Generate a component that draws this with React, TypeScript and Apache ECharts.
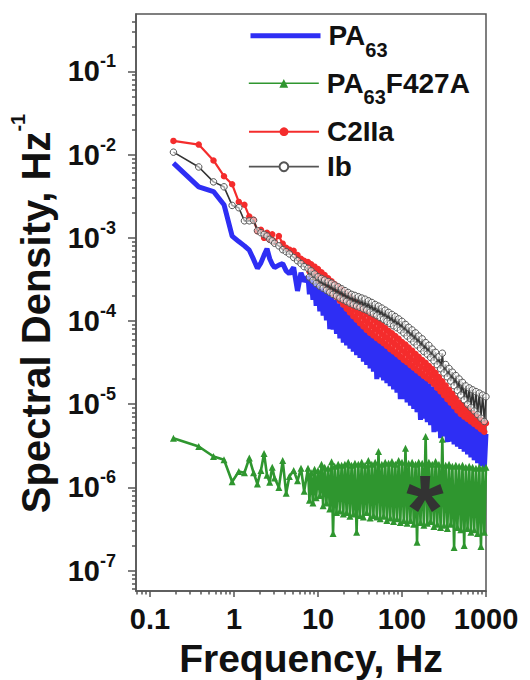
import React, { useEffect, useRef } from 'react';
import * as echarts from 'echarts';

// Frequency grid (Hz) shared by all four spectra
const freqHz = [
  0.19, 0.38, 0.57, 0.76, 0.95, 1.14, 1.33, 1.52, 1.71, 1.9, 2.09, 2.28, 2.47, 2.66, 2.85, 3.04,
  3.42, 3.8, 4.18, 4.56, 5.13, 5.7, 6.27, 6.84,
  7.6, 7.9, 8.3, 8.7, 9.1, 9.5, 10, 10.5, 11, 11.5,
  12, 12.6, 13.2, 13.8, 14.5, 15.1, 15.8, 16.6, 17.4, 18.2,
  19.1, 20, 20.9, 21.9, 22.9, 24, 25.1, 26.3, 27.5, 28.8,
  30.2, 31.6, 33.1, 34.7, 36.3, 38, 39.8, 41.7, 43.7, 45.7,
  47.9, 50.1, 52.5, 55, 57.5, 60.3, 63.1, 66.1, 69.2, 72.4,
  75.9, 79.4, 83.2, 87.1, 91.2, 95.5, 100, 105, 110, 115,
  120, 126, 132, 138, 145, 151, 158, 166, 174, 182,
  191, 200, 209, 219, 229, 240, 251, 263, 275, 288,
  302, 316, 331, 347, 363, 380, 398, 417, 437, 457,
  479, 501, 525, 550, 575, 603, 631, 661, 692, 724,
  759, 794, 832, 871, 912, 955, 999,
];

// Spectral density (Hz^-1), one value per frequency
const pa63 = [
  7.9e-3, 4.1e-3, 3.6e-3, 2.5e-3, 1.05e-3, 9.0e-4, 8.0e-4, 7.1e-4, 5.5e-4, 4.3e-4, 5.0e-4, 6.2e-4,
  7.4e-4, 5.6e-4, 4.8e-4, 4.4e-4, 4.7e-4, 4.9e-4, 4.0e-4, 3.7e-4, 4.4e-4, 2.3e-4, 3.8e-4, 3.0e-4,
  3.4e-4, 2.1e-4, 3.2e-4, 1.8e-4, 3.0e-4, 1.52e-4, 2.8e-4, 1.31e-4, 2.56e-4, 1.16e-4,
  2.35e-4, 1.02e-4, 2.15e-4, 8.0e-5, 1.97e-4, 7.9e-5, 1.79e-4, 7.0e-5, 1.63e-4, 6.2e-5,
  1.47e-4, 5.5e-5, 1.35e-4, 5.1e-5, 1.25e-4, 4.66e-5, 1.16e-4, 4.3e-5, 1.07e-4, 3.9e-5,
  1.0e-4, 3.6e-5, 9.2e-5, 3.26e-5, 8.6e-5, 2.96e-5, 8.0e-5, 2.7e-5, 7.4e-5, 2.46e-5,
  6.8e-5, 2.0e-5, 6.3e-5, 2.1e-5, 5.8e-5, 1.94e-5, 5.4e-5, 1.79e-5, 4.9e-5, 1.65e-5,
  4.55e-5, 1.51e-5, 4.2e-5, 1.38e-5, 3.85e-5, 1.15e-5, 3.55e-5, 1.15e-5, 3.27e-5, 1.05e-5,
  3.0e-5, 9.6e-6, 2.76e-5, 8.8e-6, 2.53e-5, 8.0e-6, 2.32e-5, 6.5e-6, 2.12e-5, 6.7e-6,
  1.95e-5, 6.1e-6, 1.78e-5, 5.6e-6, 1.63e-5, 4.6e-6, 1.49e-5, 4.7e-6, 1.37e-5, 3.9e-6,
  1.26e-5, 4.1e-6, 1.16e-5, 3.5e-6, 1.07e-5, 3.56e-6, 9.8e-6, 3.3e-6, 9.0e-6, 3.1e-6,
  8.3e-6, 2.9e-6, 7.6e-6, 2.7e-6, 7.0e-6, 2.5e-6, 6.5e-6, 2.3e-6, 6.0e-6, 2.12e-6,
  5.55e-6, 1.96e-6, 5.1e-6, 1.8e-6, 4.75e-6, 1.67e-6, 4.4e-6,
];

const pa63F427A = [
  3.9e-6, 3.1e-6, 2.35e-6, 2.15e-6, 1.17e-6, 1.55e-6, 1.5e-6, 2.25e-6, 1.5e-6, 1.1e-6, 1.6e-6, 2.55e-6,
  1.4e-6, 1.15e-6, 1.75e-6, 1.3e-6, 1.0e-6, 2.1e-6, 8.5e-7, 1.35e-6, 1.6e-6, 1.2e-6, 1.7e-6, 9e-7,
  1.7e-6, 7e-7, 1.5e-6, 6.5e-7, 1.65e-6, 7.5e-7, 1.6e-6, 8e-7, 1.9e-6, 6e-7,
  1.75e-6, 6.5e-7, 1.7e-6, 5.5e-7, 2.04e-6, 2.8e-7, 1.8e-6, 5e-7, 1.9e-6, 5.2e-7,
  1.85e-6, 4.8e-7, 1.9e-6, 5e-7, 2.0e-6, 4.5e-7, 1.85e-6, 4.8e-7, 1.95e-6, 2.9e-7,
  1.9e-6, 4.6e-7, 2.0e-6, 4.4e-7, 1.85e-6, 5e-7, 2.1e-6, 4.3e-7, 1.9e-6, 4.6e-7,
  2.0e-6, 4.4e-7, 2.7e-6, 4.2e-7, 1.9e-6, 4.5e-7, 2.0e-6, 4.0e-7, 1.95e-6, 4.3e-7,
  2.05e-6, 3.9e-7, 1.9e-6, 4.2e-7, 2.1e-6, 3.8e-7, 2.0e-6, 4.0e-7, 2.96e-6, 3.7e-7,
  1.95e-6, 4.0e-7, 2.0e-6, 3.6e-7, 1.9e-6, 2.2e-7, 2.0e-6, 3.8e-7, 1.95e-6, 3.5e-7,
  4.1e-6, 3.7e-7, 2.0e-6, 3.9e-7, 1.9e-6, 3.4e-7, 2.05e-6, 3.6e-7, 1.9e-6, 3.3e-7,
  3.8e-6, 3.5e-7, 1.85e-6, 3.2e-7, 1.9e-6, 3.6e-7, 1.8e-6, 1.9e-7, 1.85e-6, 3.3e-7,
  1.8e-6, 3.1e-7, 1.85e-6, 2.0e-7, 1.75e-6, 3.2e-7, 1.8e-6, 2.9e-7, 1.75e-6, 3.1e-7,
  1.7e-6, 2.8e-7, 1.75e-6, 1.95e-7, 1.7e-6, 2.9e-7, 1.75e-6,
];

const c2IIa = [
  1.46e-2, 1.32e-2, 8.5e-3, 5.5e-3, 4.4e-3, 2.7e-3, 2.5e-3, 1.8e-3, 1.65e-3, 1.2e-3, 1.25e-3, 1.0e-3,
  1.15e-3, 9.5e-4, 1.1e-3, 9.0e-4, 1.05e-3, 8.5e-4, 7.6e-4, 7.2e-4, 7.0e-4, 6.2e-4, 5.6e-4, 5.3e-4,
  5.1e-4, 3.95e-4, 4.8e-4, 3.6e-4, 4.5e-4, 3.33e-4, 4.2e-4, 3.05e-4, 3.86e-4, 2.79e-4,
  3.56e-4, 2.55e-4, 3.27e-4, 2.33e-4, 3.0e-4, 2.13e-4, 2.77e-4, 1.95e-4, 2.55e-4, 1.75e-4,
  2.37e-4, 1.57e-4, 2.2e-4, 1.41e-4, 2.05e-4, 1.27e-4, 1.9e-4, 1.14e-4, 1.73e-4, 1.04e-4,
  1.57e-4, 9.4e-5, 1.42e-4, 8.6e-5, 1.29e-4, 7.8e-5, 1.19e-4, 7.2e-5, 1.1e-4, 6.7e-5,
  1.02e-4, 6.2e-5, 9.5e-5, 5.8e-5, 8.8e-5, 5.4e-5, 8.2e-5, 5.0e-5, 7.6e-5, 4.6e-5,
  7.1e-5, 4.3e-5, 6.6e-5, 4.0e-5, 6.1e-5, 3.7e-5, 5.6e-5, 3.4e-5, 5.2e-5, 3.2e-5,
  4.8e-5, 2.95e-5, 4.4e-5, 2.74e-5, 4.0e-5, 2.54e-5, 3.7e-5, 2.36e-5, 3.4e-5, 2.19e-5,
  3.14e-5, 2.04e-5, 2.88e-5, 1.9e-5, 2.65e-5, 1.75e-5, 2.39e-5, 1.57e-5, 2.12e-5, 1.42e-5,
  1.89e-5, 1.28e-5, 1.68e-5, 1.15e-5, 1.49e-5, 1.04e-5, 1.33e-5, 9.4e-6, 1.18e-5, 8.4e-6,
  1.05e-5, 7.65e-6, 9.7e-6, 7.1e-6, 9.0e-6, 6.65e-6, 8.4e-6, 6.2e-6, 7.8e-6, 5.8e-6,
  7.3e-6, 5.4e-6, 6.8e-6, 5.0e-6, 6.3e-6, 4.66e-6, 5.9e-6,
];

const ib = [
  1.07e-2, 7.1e-3, 4.7e-3, 4.1e-3, 2.45e-3, 2.3e-3, 1.6e-3, 1.6e-3, 1.62e-3, 1.22e-3, 1.15e-3, 1.1e-3,
  1.05e-3, 9.6e-4, 9.2e-4, 8.6e-4, 8.0e-4, 7.2e-4, 6.8e-4, 6.4e-4, 5.8e-4, 5.3e-4, 4.9e-4, 4.5e-4,
  4.3e-4, 3.37e-4, 4.0e-4, 3.08e-4, 3.68e-4, 2.82e-4, 3.4e-4, 2.62e-4, 3.25e-4, 2.48e-4,
  3.11e-4, 2.34e-4, 2.98e-4, 2.21e-4, 2.85e-4, 2.09e-4, 2.71e-4, 1.99e-4, 2.58e-4, 1.89e-4,
  2.44e-4, 1.8e-4, 2.32e-4, 1.72e-4, 2.2e-4, 1.64e-4, 2.09e-4, 1.57e-4, 2.03e-4, 1.51e-4,
  1.96e-4, 1.46e-4, 1.89e-4, 1.4e-4, 1.83e-4, 1.35e-4, 1.75e-4, 1.28e-4, 1.67e-4, 1.22e-4,
  1.58e-4, 1.16e-4, 1.51e-4, 1.1e-4, 1.43e-4, 1.05e-4, 1.35e-4, 9.9e-5, 1.27e-4, 9.3e-5,
  1.2e-4, 8.75e-5, 1.13e-4, 8.3e-5, 1.06e-4, 7.8e-5, 9.9e-5, 7.2e-5, 9.1e-5, 6.6e-5,
  8.4e-5, 6.1e-5, 7.8e-5, 5.6e-5, 7.2e-5, 5.15e-5, 6.6e-5, 4.7e-5, 6.1e-5, 4.3e-5,
  5.5e-5, 4.0e-5, 5.1e-5, 3.65e-5, 4.6e-5, 3.33e-5, 4.2e-5, 2.98e-5, 3.74e-5, 2.67e-5,
  4.1e-5, 2.38e-5, 3.0e-5, 2.13e-5, 2.69e-5, 1.9e-5, 2.43e-5, 1.67e-5, 2.21e-5, 1.47e-5,
  2.01e-5, 1.29e-5, 1.83e-5, 1.13e-5, 1.66e-5, 1.0e-5, 1.57e-5, 9.1e-6, 1.49e-5, 8.3e-6,
  1.42e-5, 7.5e-6, 1.36e-5, 6.8e-6, 1.29e-5, 6.2e-6, 1.23e-5,
];

// Axis ticks (log10 decades)
const xDecades = [-1, 0, 1, 2, 3];
const xTickLabels = ['0.1', '1', '10', '100', '1000'];
const yDecades = [-7, -6, -5, -4, -3, -2, -1];
const yTickExponents = ['-7', '-6', '-5', '-4', '-3', '-2', '-1'];
const minorMultipliers = [2, 3, 4, 5, 6, 7, 8, 9];

const X_MIN = -1.167;
const X_MAX = 3.0;
const Y_MIN = -7.245;
const Y_MAX = -0.31;

const FONT = "'Liberation Sans', Arial, Helvetica, sans-serif";
const BLUE = '#2e2ef4';
const GREEN = '#2f962f';
const RED = '#f42c2c';
const DARK = '#333333';
const FRAME = '#555555';
const TEXT = '#111111';

function minorTicks(lo: number, hi: number): number[] {
  const out: number[] = [];
  for (let d = Math.floor(lo) - 1; d <= Math.ceil(hi); d++) {
    for (const m of minorMultipliers) {
      const v = d + Math.log10(m);
      if (v > lo && v < hi) out.push(v);
    }
  }
  return out;
}

const toPts = (vals: number[]) => freqHz.map((f, i) => [Math.log10(f), Math.log10(vals[i])]);

const legendRows: any[] = [
  { top: 11.7, item: { name: 'PA63', itemStyle: { opacity: 0 }, lineStyle: { width: 5 } } },
  { top: 59.3, item: { name: 'PA63F427A', lineStyle: { width: 1.6 } } },
  { top: 117.7, item: { name: 'C2IIa', lineStyle: { width: 2 } } },
  { top: 152.7, item: { name: 'Ib', lineStyle: { width: 1.8, color: '#555555' }, itemStyle: { color: '#ffffff' } } },
];

export default function App() {
  const ref = useRef<HTMLDivElement>(null);
  useEffect(() => {
    if (!ref.current) return;
    const chart = echarts.init(ref.current, undefined, { renderer: 'svg' });
    const tickStyle = { color: FRAME, width: 1.5 };
    const option: any = {
      animation: false,
      backgroundColor: '#ffffff',
      grid: {
        left: 136, top: 14, right: 44, bottom: 89, show: true, borderColor: FRAME, borderWidth: 1.5,
        containLabel: false, outerBoundsMode: 'none',
      },
      xAxis: [
        {
          type: 'value', min: X_MIN, max: X_MAX, gridIndex: 0, position: 'bottom',
          axisLine: { show: true, onZero: false, lineStyle: { color: FRAME, width: 1.5 } },
          axisTick: { show: true, length: 6, inside: false, customValues: xDecades, lineStyle: tickStyle },
          axisLabel: {
            customValues: xDecades, margin: 13,
            formatter: (v: number) => xTickLabels[xDecades.indexOf(Math.round(v))] ?? '',
            fontFamily: FONT, fontSize: 29, fontWeight: 'bold', color: TEXT,
          },
          splitLine: { show: false },
          name: 'Frequency, Hz', nameLocation: 'middle', nameGap: 48,
          nameTextStyle: { fontFamily: FONT, fontSize: 39, fontWeight: 'bold', color: TEXT },
        },
        {
          type: 'value', min: X_MIN, max: X_MAX, gridIndex: 0, position: 'bottom',
          axisLine: { show: false, onZero: false },
          axisTick: { show: true, length: 3.5, customValues: minorTicks(X_MIN, X_MAX), lineStyle: tickStyle },
          axisLabel: { show: false },
          splitLine: { show: false },
        },
      ],
      yAxis: [
        {
          type: 'value', min: Y_MIN, max: Y_MAX, gridIndex: 0, position: 'left',
          axisLine: { show: true, onZero: false, lineStyle: { color: FRAME, width: 1.5 } },
          axisTick: { show: true, length: 8, customValues: yDecades, lineStyle: tickStyle },
          axisLabel: {
            customValues: yDecades, margin: 20,
            formatter: (v: number) => `{b|10}{s|${yTickExponents[yDecades.indexOf(Math.round(v))] ?? ''}}`,
            rich: {
              b: { fontFamily: FONT, fontSize: 29, fontWeight: 'bold', color: TEXT },
              s: { fontFamily: FONT, fontSize: 18, fontWeight: 'bold', color: TEXT, padding: [0, 0, 20, 0] },
            },
          },
          splitLine: { show: false },
          name: 'Spectral Density, Hz{s|-1}', nameLocation: 'middle', nameGap: 72,
          nameTextStyle: {
            fontFamily: FONT, fontSize: 40, fontWeight: 'bold', color: TEXT, padding: [0, 22, 0, 0],
            rich: { s: { fontFamily: FONT, fontSize: 20, fontWeight: 'bold', color: TEXT, padding: [0, 0, 36, 0] } },
          },
        },
        {
          type: 'value', min: Y_MIN, max: Y_MAX, gridIndex: 0, position: 'left',
          axisLine: { show: false, onZero: false },
          axisTick: { show: true, length: 4, customValues: minorTicks(Y_MIN, Y_MAX), lineStyle: tickStyle },
          axisLabel: { show: false },
          splitLine: { show: false },
        },
      ],
      legend: legendRows.map((r) => ({
        data: [r.item],
        left: 248, top: r.top, padding: 0, orient: 'vertical',
        itemWidth: 70, itemHeight: 11, selectedMode: false,
        formatter: (n: string) => n.replace('63', '{s|63}'),
        textStyle: {
          fontFamily: FONT, fontSize: 28, lineHeight: 28, fontWeight: 'bold', color: TEXT, padding: [0, 0, 0, 3],
          rich: {
            s: { fontFamily: FONT, fontSize: 20, lineHeight: 20, fontWeight: 'bold', color: TEXT, padding: [28, 0, 0, 0] },
          },
        },
      })),
      graphic: [
        {
          type: 'text', x: 425, y: 508, z: 100, silent: true,
          style: { text: '*', font: `bold 96px ${FONT}`, fill: '#333333', align: 'center', verticalAlign: 'middle' },
        },
      ],
      series: [
        {
          name: 'PA63', type: 'line', data: toPts(pa63), symbol: 'none', z: 2, silent: true,
          lineStyle: { color: BLUE, width: 5 }, itemStyle: { color: BLUE },
        },
        {
          name: 'PA63F427A', type: 'line', data: toPts(pa63F427A), symbol: 'triangle', symbolSize: 7,
          showAllSymbol: true, z: 3, silent: true,
          lineStyle: { color: GREEN, width: 2.6 }, itemStyle: { color: GREEN },
        },
        {
          name: 'C2IIa', type: 'line', data: toPts(c2IIa), symbol: 'circle', symbolSize: 6.5,
          showAllSymbol: true, z: 4, silent: true,
          lineStyle: { color: RED, width: 2.2 }, itemStyle: { color: RED },
        },
        {
          name: 'Ib', type: 'line', data: toPts(ib), symbol: 'circle', symbolSize: 6.5,
          showAllSymbol: true, z: 5, silent: true,
          lineStyle: { color: DARK, width: 1.6 },
          itemStyle: { color: 'rgba(255,255,255,0.55)', borderColor: '#555555', borderWidth: 1 },
        },
      ],
    };
    chart.setOption(option);
    return () => chart.dispose();
  }, []);
  return (
    <div
      ref={ref}
      style={{ position: 'absolute', left: 0, top: 0, width: 530, height: 680, background: '#fff' }}
    />
  );
}
